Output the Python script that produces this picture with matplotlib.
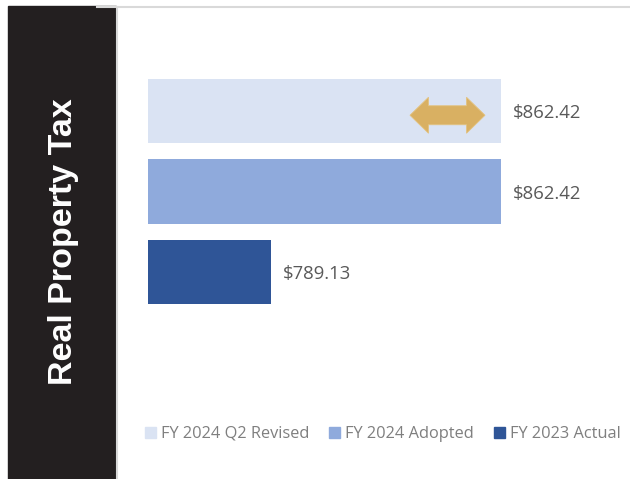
import matplotlib.pyplot as plt
import matplotlib.patches as mpatches
from matplotlib.lines import Line2D

# data
categories = ["FY 2024 Q2 Revised", "FY 2024 Adopted", "FY 2023 Actual"]
values = [862.42, 862.42, 789.13]
colors = ["#DAE3F3", "#8FAADC", "#2F5597"]
title = "Real Property Tax"

plt.rcParams['font.family'] = ['Open Sans', 'DejaVu Sans']

W, H = 630, 479
fig = plt.figure(figsize=(W / 100, H / 100), dpi=100)

# dark side panel + thin gray frame lines
fig.patches.append(mpatches.Rectangle((8 / W, 0), 108 / W, 473 / H,
                                      transform=fig.transFigure, color="#231F20", zorder=0))
fig.add_artist(Line2D([97 / W, 1], [1 - 7 / H, 1 - 7 / H], transform=fig.transFigure,
                      color="#D9D9D9", lw=1.5))
fig.add_artist(Line2D([117 / W, 117 / W], [0, 1 - 7 / H], transform=fig.transFigure,
                      color="#D9D9D9", lw=1.5))
fig.text(64 / W, 1 - 242 / H, title, rotation=90, color="white", fontsize=24.5,
         fontweight="bold", family=["Liberation Sans", "DejaVu Sans"],
         ha="center", va="center")

# plot area
ax = fig.add_axes([148 / W, 1 - 352 / H, (619 - 148) / W, 321 / H])
xmin, xmax = 750, 900
ypos = list(range(len(values)))
ax.barh(ypos, [v - xmin for v in values], left=xmin, height=0.8, color=colors)
ax.set_xlim(xmin, xmax)
ax.set_ylim(3, -1)
ax.axis("off")

px_x = (xmax - xmin) / (619 - 148)
px_y = 4 / 321

for y, v in zip(ypos, values):
    ax.text(v + 3.7, y + 2 * px_y, f"${v:,.2f}", va="center", ha="left",
            fontsize=13.3, color="#595959")

# double-headed arrow on the revised bar
x1 = values[0] - 16 * px_x
x0 = x1 - 75 * px_x
hl = 18.5 * px_x
sh = 9.5 * px_y
hh = 18 * px_y
yc = ypos[0] + 4 * px_y
pts = [(x0, yc), (x0 + hl, yc - hh), (x0 + hl, yc - sh), (x1 - hl, yc - sh),
       (x1 - hl, yc - hh), (x1, yc), (x1 - hl, yc + hh), (x1 - hl, yc + sh),
       (x0 + hl, yc + sh), (x0 + hl, yc + hh)]
ax.add_patch(mpatches.Polygon(pts, closed=True, facecolor="#D9B062", edgecolor="#E3C27F", lw=0.6))

# legend
handles = [mpatches.Patch(color=c, label=l) for c, l in zip(colors, categories)]
leg = fig.legend(handles=handles, loc="center left", bbox_to_anchor=(137 / W, 1 - 434 / H),
                 ncol=3, frameon=False, fontsize=11.8, handlelength=0.68, handleheight=0.68,
                 handletextpad=0.3, columnspacing=1.2, borderpad=0)
for t in leg.get_texts():
    t.set_color("#7F7F7F")

fig.savefig("out.png", dpi=100)
